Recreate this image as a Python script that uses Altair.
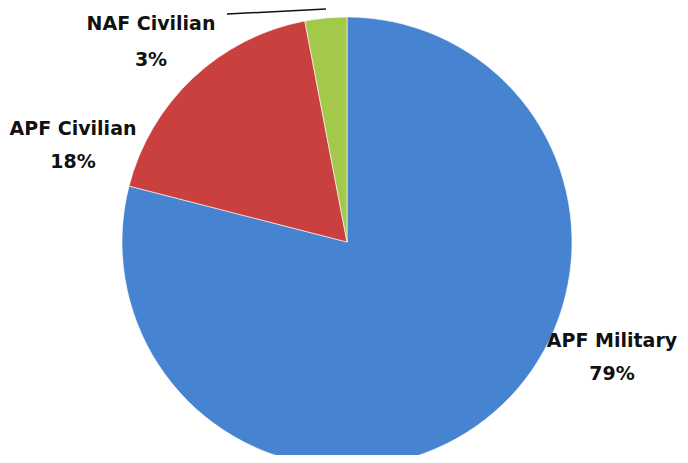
import altair as alt
import pandas as pd

categories = ["APF Military", "APF Civilian", "NAF Civilian"]
values = [79, 18, 3]
pct_labels = ["79%", "18%", "3%"]
colors = ["#4683D0", "#C9403E", "#A3C94A"]

df = pd.DataFrame({"category": categories, "value": values, "order": [0, 1, 2]})

W, H = 672, 447
cx, cy = 339, 234

pie = alt.Chart(df).mark_arc(radius=225, stroke="#ffffff", strokeWidth=0.6).encode(
    theta=alt.Theta("value:Q", stack=True),
    order=alt.Order("order:Q"),
    color=alt.Color("category:N", scale=alt.Scale(domain=categories, range=colors), legend=None),
    x=alt.value(cx),
    y=alt.value(cy),
)

label_pos = {
    "APF Military": (604, 333, 33),
    "APF Civilian": (65, 121, 33),
    "NAF Civilian": (143, 16, 36),
}

layers = [pie]
for cat, pct in zip(categories, pct_labels):
    lx, ly, lh = label_pos[cat]
    ldf = pd.DataFrame({"t": [[cat, pct]]})
    layers.append(
        alt.Chart(ldf).mark_text(
            font="DejaVu Sans", fontWeight="bold", fontSize=19, color="#111111",
            lineHeight=lh, baseline="middle", align="center",
        ).encode(text="t:N", x=alt.value(lx), y=alt.value(ly))
    )

leader = alt.Chart(pd.DataFrame({"a": [0]})).mark_rule(color="#111111", strokeWidth=1.5).encode(
    x=alt.value(219), x2=alt.value(318), y=alt.value(6), y2=alt.value(1)
)
layers.append(leader)

chart = alt.layer(*layers).properties(
    width=W, height=H, autosize=alt.AutoSizeParams(type="none"), padding=0
).configure_view(stroke=None)

chart.save("out.html", embed_options={"renderer": "svg", "actions": False})
